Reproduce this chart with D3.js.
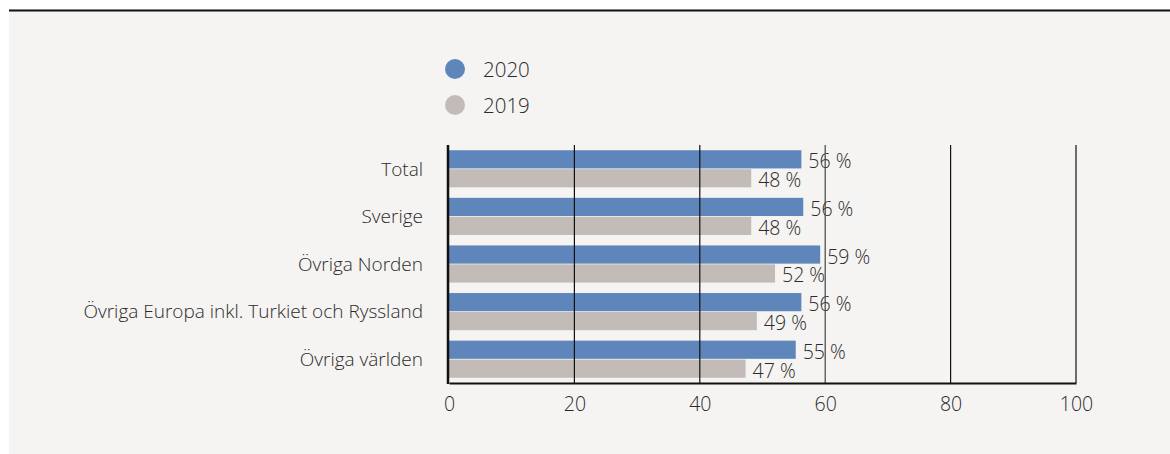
<!DOCTYPE html>
<html><head><meta charset="utf-8">
<script src="https://cdn.jsdelivr.net/npm/d3@7"></script>
<style>
html,body{margin:0;padding:0;background:#fff;}
svg{display:block;}
text{font-family:"Open Sans",Lato,sans-serif;font-weight:300;fill:#2b2b2b;}
</style></head>
<body>
<svg id="c" width="1170" height="454"></svg>
<script>
const categories = ["Total","Sverige","Övriga Norden","Övriga Europa inkl. Turkiet och Ryssland","Övriga världen"];
const series = ["2020","2019"];
const values2020 = [56.2, 56.5, 59.2, 56.2, 55.3];
const values2019 = [48.2, 48.2, 52.0, 49.1, 47.3];
const labels2020 = ["56 %","56 %","59 %","56 %","55 %"];
const labels2019 = ["48 %","48 %","52 %","49 %","47 %"];
const xTicks = [0,20,40,60,80,100];
const colors = {"2020":"#5f86bb","2019":"#c3bbb8"};

const svg = d3.select("#c");
svg.append("rect").attr("x",9).attr("y",9).attr("width",1161).attr("height",445).attr("fill","#f5f4f2");
svg.append("line").attr("x1",9).attr("x2",1170).attr("y1",10.5).attr("y2",10.5).attr("stroke","#111").attr("stroke-width",2);

const pL=449, pR=1076, pT=145, pB=383;
const x = d3.scaleLinear().domain([0,100]).range([pL,pR]);
const y = d3.scaleBand().domain(categories).range([pT,pB]).paddingInner(0.22).paddingOuter(0.11);
const ys = d3.scaleBand().domain(series).range([0,y.bandwidth()]).paddingInner(0.04);

// legend
const lg = svg.append("g");
series.forEach((s,i)=>{
  lg.append("circle").attr("cx",455).attr("cy",69+i*36).attr("r",10).attr("fill",colors[s]);
  lg.append("text").attr("x",483).attr("y",70+i*36).attr("dy","0.36em").attr("font-size",20.5).text(s);
});

// bars
const data = categories.map((c,i)=>({c, v:[
  {s:"2020",v:values2020[i],l:labels2020[i]},
  {s:"2019",v:values2019[i],l:labels2019[i]}]}));
const g = svg.append("g");
data.forEach(d=>{
  d.v.forEach(b=>{
    g.append("rect").attr("x",x(0)).attr("y",y(d.c)+ys(b.s))
      .attr("width",x(b.v)-x(0)).attr("height",ys.bandwidth()).attr("fill",colors[b.s]);
    g.append("text").attr("x",x(b.v)+7).attr("y",y(d.c)+ys(b.s)+ys.bandwidth()/2+2)
      .attr("dy","0.36em").attr("font-size",19.5).text(b.l);
  });
  svg.append("text").attr("x",423).attr("y",y(d.c)+y.bandwidth()/2).attr("dy","0.36em")
    .attr("text-anchor","end").attr("font-size",19).text(d.c);
});

// gridlines on top
xTicks.slice(1).forEach(t=>{
  svg.append("line").attr("x1",x(t)).attr("x2",x(t)).attr("y1",pT).attr("y2",pB)
    .attr("stroke", t===60 ? "#444" : "#111").attr("stroke-width",1.2);
});
// axes
const ax = d3.axisBottom(x).tickValues(xTicks).tickSize(0).tickPadding(14);
const axg = svg.append("g").attr("transform",`translate(0,${pB})`).call(ax);
axg.select(".domain").attr("stroke","#111").attr("stroke-width",2);
axg.selectAll("text").attr("font-size",19.5).attr("font-family","'Open Sans',sans-serif").attr("font-weight",300).attr("fill","#2b2b2b");
svg.append("line").attr("x1",x(0)-1).attr("x2",x(0)-1).attr("y1",pT).attr("y2",pB+1).attr("stroke","#111").attr("stroke-width",2.5);
</script>
</body></html>
